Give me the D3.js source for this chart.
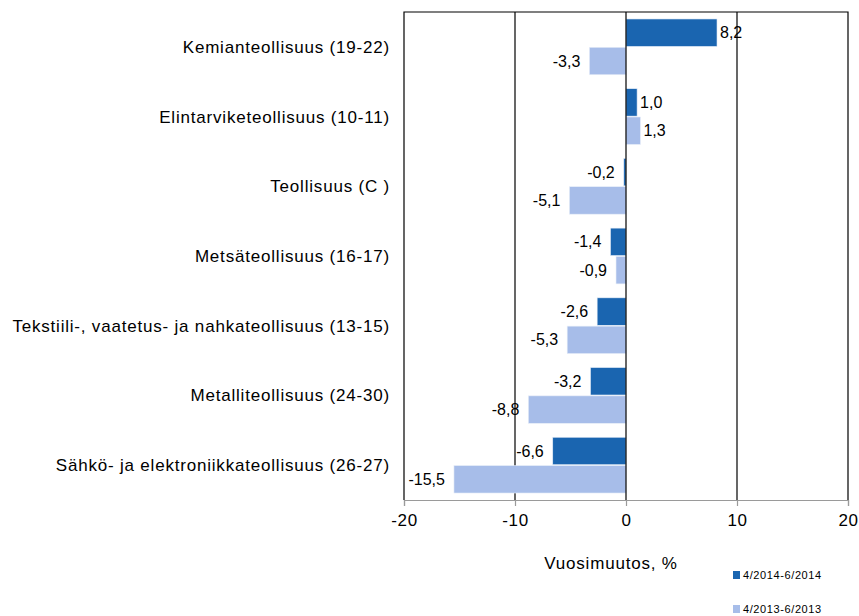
<!DOCTYPE html>
<html>
<head>
<meta charset="utf-8">
<script src="https://cdn.jsdelivr.net/npm/d3@7"></script>
<style>
  body { margin: 0; background: #fff; }
  svg text { font-family: "Liberation Sans", Arial, sans-serif; fill: #000; }
</style>
</head>
<body>
<svg id="chart" width="859" height="616"></svg>
<script>
  var categories = [
    "Kemianteollisuus (19-22)",
    "Elintarviketeollisuus (10-11)",
    "Teollisuus (C )",
    "Metsäteollisuus (16-17)",
    "Tekstiili-, vaatetus- ja nahkateollisuus (13-15)",
    "Metalliteollisuus (24-30)",
    "Sähkö- ja elektroniikkateollisuus (26-27)"
  ];
  var series2014 = [8.2, 1.0, -0.2, -1.4, -2.6, -3.2, -6.6];
  var series2013 = [-3.3, 1.3, -5.1, -0.9, -5.3, -8.8, -15.5];
  var seriesNames = ["4/2014-6/2014", "4/2013-6/2013"];
  var xTicks = [-20, -10, 0, 10, 20];
  var colors = ["#1a65b0", "#a7bde9"];

  (function () {
    var svg = d3.select("#chart");
    var pLeft = 404, pRight = 848, pTop = 12, pBottom = 500;

    var x = d3.scaleLinear().domain([-20, 20]).range([pLeft, pRight]);
    var y = d3.scaleBand().domain(categories).range([pTop, pBottom]).paddingInner(0.2).paddingOuter(0.1);
    var sub = d3.scaleBand().domain([0, 1]).range([0, y.bandwidth()]).paddingInner(0.03);

    var fmt = function (v) { return v.toFixed(1).replace(".", ","); };

    // gridlines
    svg.append("g").selectAll("line")
      .data([-10, 10])
      .enter().append("line")
      .attr("x1", function (d) { return x(d); })
      .attr("x2", function (d) { return x(d); })
      .attr("y1", pTop).attr("y2", pBottom)
      .attr("stroke", "#000").attr("stroke-width", 1.2);

    // plot border (left, top, right)
    svg.append("path")
      .attr("d", "M" + pLeft + "," + pBottom + "V" + pTop + "H" + pRight + "V" + pBottom)
      .attr("fill", "none").attr("stroke", "#000").attr("stroke-width", 1.2);

    var data = [];
    categories.forEach(function (c, i) {
      data.push({ cat: c, s: 0, v: series2014[i] });
      data.push({ cat: c, s: 1, v: series2013[i] });
    });

    svg.append("g").selectAll("rect")
      .data(data)
      .enter().append("rect")
      .attr("x", function (d) { return x(Math.min(0, d.v)); })
      .attr("width", function (d) { return Math.abs(x(d.v) - x(0)); })
      .attr("y", function (d) { return y(d.cat) + sub(d.s); })
      .attr("height", sub.bandwidth())
      .attr("fill", function (d) { return colors[d.s]; })
      .attr("stroke", "#e8eef8").attr("stroke-width", 0.6);

    // zero line above bars
    svg.append("line")
      .attr("x1", x(0)).attr("x2", x(0)).attr("y1", pTop).attr("y2", pBottom)
      .attr("stroke", "#000").attr("stroke-width", 1.2);

    svg.append("g").selectAll("text")
      .data(data)
      .enter().append("text")
      .attr("x", function (d) { return d.v >= 0 ? x(d.v) + 3 : x(d.v) - 9; })
      .attr("y", function (d) { return y(d.cat) + sub(d.s) + sub.bandwidth() / 2; })
      .attr("dy", "0.35em")
      .attr("text-anchor", function (d) { return d.v >= 0 ? "start" : "end"; })
      .style("font-size", "16px")
      .text(function (d) { return fmt(d.v); });

    // category labels
    svg.append("g").selectAll("text")
      .data(categories)
      .enter().append("text")
      .attr("x", 390)
      .attr("y", function (d) { return y(d) + y.bandwidth() / 2; })
      .attr("dy", "0.35em")
      .attr("text-anchor", "end")
      .style("font-size", "17px")
      .style("letter-spacing", "0.8px")
      .text(function (d) { return d; });

    // x axis
    var axis = svg.append("g")
      .attr("transform", "translate(0," + pBottom + ")")
      .call(d3.axisBottom(x).tickValues(xTicks).tickSize(6).tickPadding(8).tickFormat(function (d) { return String(d); }));
    axis.select(".domain").attr("stroke", "#9a9a9a").attr("stroke-width", 1.2);
    axis.selectAll(".tick line").attr("stroke", "#9a9a9a").attr("stroke-width", 1.2);
    axis.selectAll("text").style("font-size", "17px").style("letter-spacing", "0.6px")
      .style("font-family", "Liberation Sans, Arial, sans-serif");

    svg.append("text")
      .attr("x", 611).attr("y", 569)
      .attr("text-anchor", "middle")
      .style("font-size", "17px")
      .style("letter-spacing", "0.8px")
      .text("Vuosimuutos, %");

    // legend
    var leg = svg.append("g").selectAll("g")
      .data(seriesNames)
      .enter().append("g")
      .attr("transform", function (d, i) { return "translate(733," + (575 + i * 34) + ")"; });
    leg.append("rect")
      .attr("x", 0).attr("y", -4).attr("width", 7).attr("height", 8)
      .attr("fill", function (d, i) { return colors[i]; });
    leg.append("text")
      .attr("x", 10).attr("dy", "0.35em")
      .style("font-size", "11px")
      .style("letter-spacing", "0.6px")
      .text(function (d) { return d; });
  })();
</script>
</body>
</html>
